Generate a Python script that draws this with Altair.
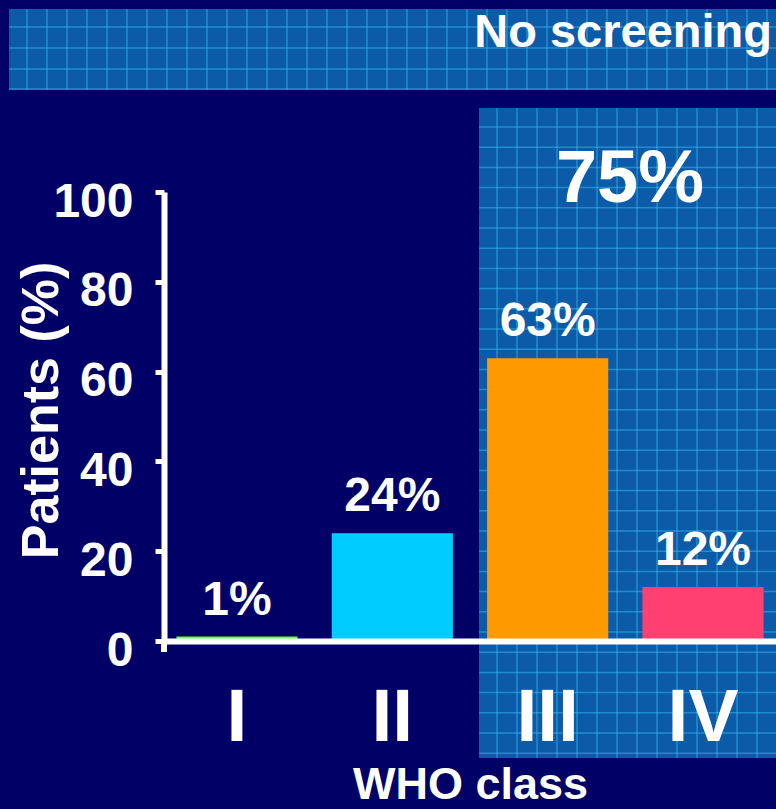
import altair as alt
import numpy as np
import pandas as pd

# ---- data ----
classes = ["I", "II", "III", "IV"]
values = [1, 24, 63, 12]
value_labels = ["1%", "24%", "63%", "12%"]
bar_colors = ["#66ff33", "#00ccff", "#ff9900", "#ff4070"]
y_ticks = [0, 20, 40, 60, 80, 100]
banner_text = ["No screening"]
panel_text = ["75%"]
x_title = "WHO class"
y_title = "Patients (%)"

FONT = "Liberation Sans"
NAVY = "#000066"
PANEL = "#0b5ba8"
GRIDC = "#35bdf5"

W, H = 612, 449

bars_df = pd.DataFrame({"cls": classes, "val": values, "lab": value_labels})

# ---- decorative grid pattern (pixel space, no scale) ----
rows = []
for gx in np.arange(-137, W + 1, 20):          # banner verticals
    rows.append({"x1": gx, "x2": gx, "y1": -183, "y2": -102})
for gy in [-165, -144, -123, -103]:            # banner horizontals
    rows.append({"x1": -155, "x2": W, "y1": gy, "y2": gy})
for gx in np.arange(333, W + 1, 20):           # panel verticals
    rows.append({"x1": gx, "x2": gx, "y1": -84, "y2": 566})
for gy in np.arange(-65, 566, 20.2):           # panel horizontals
    rows.append({"x1": 315, "x2": W, "y1": gy, "y2": gy})
grid_df = pd.DataFrame(rows)

one = pd.DataFrame({"k": [0]})

banner = alt.Chart(one).mark_rect(color=PANEL).encode(
    x=alt.value(-155), x2=alt.value(W), y=alt.value(-183), y2=alt.value(-102)
)
panel = alt.Chart(one).mark_rect(color=PANEL).encode(
    x=alt.value(315), x2=alt.value(W), y=alt.value(-84), y2=alt.value(566)
)
grid = alt.Chart(grid_df).mark_rule(color=GRIDC, strokeWidth=1.5, opacity=0.5).encode(
    x=alt.X("x1:Q", scale=None, axis=None),
    x2="x2:Q",
    y=alt.Y("y1:Q", scale=None, axis=None),
    y2="y2:Q",
)

xenc = alt.X(
    "cls:N",
    sort=classes,
    scale=alt.Scale(paddingInner=0.22, paddingOuter=0.08),
    axis=alt.Axis(
        title=x_title,
        labelAngle=0,
        ticks=False,
        labelFontSize=75,
        labelFontWeight="bold",
        labelColor="white",
        labelPadding=40,
        domainColor="white",
        domainWidth=6,
        titleFontSize=45,
        titleFontWeight="bold",
        titleColor="white",
        titleBaseline="alphabetic",
        titleY=157,
        zindex=1,
    ),
)
yenc = alt.Y(
    "val:Q",
    scale=alt.Scale(domain=[0, 100], nice=False),
    axis=alt.Axis(
        title=y_title,
        values=y_ticks,
        grid=False,
        labelFontSize=48,
        labelFontWeight="bold",
        labelColor="white",
        labelPadding=22,
        labelOffset=10,
        tickColor="white",
        tickWidth=5,
        tickSize=9,
        domainColor="white",
        domainWidth=6,
        titleFontSize=52,
        titleFontWeight="bold",
        titleColor="white",
        titleX=-96,
        titleY=218,
        titleBaseline="bottom",
        titleAlign="center",
        zindex=1,
    ),
)

bars = alt.Chart(bars_df).mark_bar().encode(
    x=xenc,
    y=yenc,
    color=alt.Color("cls:N", scale=alt.Scale(domain=classes, range=bar_colors), legend=None),
)
bar_text = alt.Chart(bars_df).mark_text(
    dy=-22, baseline="alphabetic", fontSize=48, fontWeight="bold", color="white", font=FONT
).encode(x=alt.X("cls:N", sort=classes), y="val:Q", text="lab:N")

banner_lbl = alt.Chart(pd.DataFrame({"t": banner_text})).mark_text(
    align="right", baseline="alphabetic", fontSize=47, fontWeight="bold", color="white", font=FONT
).encode(x=alt.value(608), y=alt.value(-145), text="t:N")
panel_lbl = alt.Chart(pd.DataFrame({"t": panel_text})).mark_text(
    align="center", baseline="alphabetic", fontSize=74, fontWeight="bold", color="white", font=FONT
).encode(x=alt.value(466), y=alt.value(10), text="t:N")

stub = alt.Chart(one).mark_rule(color="white", strokeWidth=6).encode(
    x=alt.value(0), y=alt.value(H), y2=alt.value(H + 11)
)

chart = (
    alt.layer(banner, panel, grid, bars, bar_text, banner_lbl, panel_lbl, stub)
    .properties(
        width=W,
        height=H,
        autosize=alt.AutoSizeParams(type="none"),
        padding={"left": 164, "top": 192, "right": 0, "bottom": 168},
        background=NAVY,
    )
    .configure(font=FONT)
    .configure_view(stroke=None)
)

chart.save("out.html", embed_options={"renderer": "svg", "actions": False})
